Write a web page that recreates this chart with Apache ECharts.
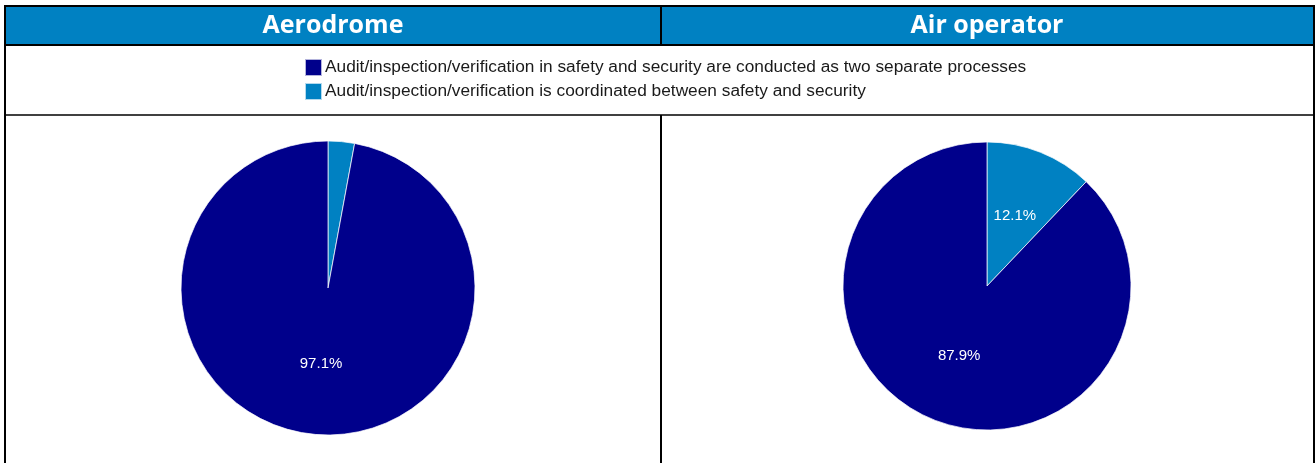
<!DOCTYPE html>
<html>
<head>
<meta charset="utf-8">
<script src="https://cdn.jsdelivr.net/npm/echarts@6/dist/echarts.min.js"></script>
<style>
  html, body { margin: 0; padding: 0; background: #fff; }
  #chart { width: 1316px; height: 463px; }
</style>
</head>
<body>
<div id="chart"></div>
<script>
// legend entries (order as shown in legend)
const categories = [
    'Audit/inspection/verification in safety and security are conducted as two separate processes',
    'Audit/inspection/verification is coordinated between safety and security'
];
const panels = ['Aerodrome', 'Air operator'];
// percentages, same order as categories
const aerodromeValues = [97.1, 2.9];
const airOperatorValues = [87.9, 12.1];

const colors = ['#00008B', '#0081C2'];
const headerBlue = '#0081C2';

// small slice is drawn first from 12 o'clock, clockwise
function pieData(values) {
    return [1, 0].map(i => ({
        name: categories[i],
        value: values[i],
        itemStyle: {color: colors[i]}
    }));
}

function pieSeries(values, center, radius) {
    return {
        type: 'pie',
        center: center,
        radius: radius,
        startAngle: 90,
        clockwise: true,
        silent: true,
        animation: false,
        data: pieData(values),
        itemStyle: {borderColor: 'rgba(255,255,255,0.7)', borderWidth: 1},
        label: {
            show: true,
            position: 'inside',
            color: '#fff',
            fontFamily: 'Liberation Sans, Arial, sans-serif',
            fontSize: 15,
            formatter: p => p.value < 5 ? '' : p.value.toFixed(1) + '%'
        },
        labelLine: {show: false}
    };
}

const line = (x1, y1, x2, y2, w) => ({
    type: 'line',
    shape: {x1: x1, y1: y1, x2: x2, y2: y2},
    style: {stroke: '#000', lineWidth: w || 2}
});

const headerText = (txt, cx) => ({
    type: 'text',
    x: cx, y: 26,
    style: {
        text: txt,
        fill: '#fff',
        font: 'bold 25px "Open Sans", sans-serif',
        align: 'center',
        verticalAlign: 'middle'
    }
});

let chart = echarts.init(document.getElementById('chart'));
chart.setOption({
    animation: false,
    color: colors,
    legend: {
        orient: 'vertical',
        left: 304,
        top: 58,
        padding: 0,
        icon: 'rect',
        itemWidth: 17,
        itemHeight: 17,
        itemGap: 5,
        selectedMode: false,
        data: categories,
        textStyle: {
            fontFamily: 'Liberation Sans, Arial, sans-serif',
            fontSize: 17.3,
            lineHeight: 17,
            color: '#1a1a1a',
            padding: [0, 0, 0, -2]
        }
    },
    graphic: [
        {type: 'rect', shape: {x: 5, y: 6, width: 1309, height: 39}, style: {fill: headerBlue}},
        headerText(panels[0], 333),
        headerText(panels[1], 987),
        line(4, 6, 1315, 6),
        line(4, 45, 1315, 45),
        line(5, 5, 5, 463),
        line(1314, 5, 1314, 463),
        line(661, 5, 661, 45),
        line(4, 115, 1315, 115, 1.5),
        line(661, 115, 661, 463)
    ],
    series: [
        pieSeries(aerodromeValues, [328, 288], 147),
        pieSeries(airOperatorValues, [987, 286], 144)
    ]
});
</script>
</body>
</html>
